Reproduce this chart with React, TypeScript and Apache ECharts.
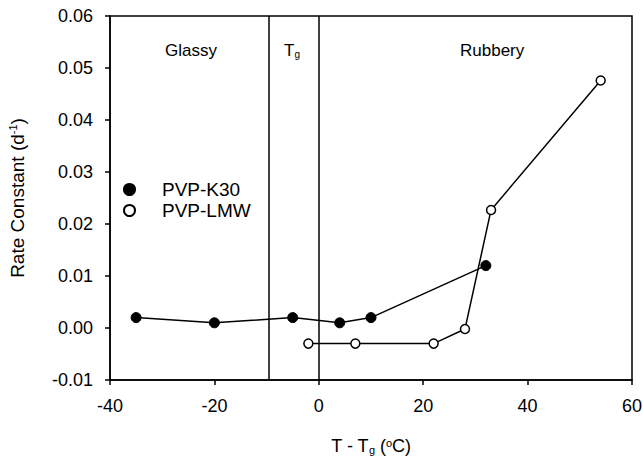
import React, { useEffect, useRef } from "react";
import * as echarts from "echarts";

const k30X = [-35, -20, -5, 4, 10, 32];
const k30Y = [0.002, 0.001, 0.002, 0.001, 0.002, 0.012];
const lmwX = [-2, 7, 22, 28, 33, 54];
const lmwY = [-0.003, -0.003, -0.003, -0.0002, 0.0227, 0.0476];
const regionLines = [-9.5, 0];
const xTicks = { min: -40, max: 60, interval: 20 };
const yTicks = { min: -0.01, max: 0.06, interval: 0.01 };

const FONT = "Liberation Sans, Arial, sans-serif";

export default function App() {
  const ref = useRef<HTMLDivElement>(null);
  useEffect(() => {
    if (!ref.current) return;
    const chart = echarts.init(ref.current, null, { renderer: "svg" });
    const black = "#000";
    chart.setOption({
      animation: false,
      backgroundColor: "#fff",
      textStyle: { fontFamily: FONT, color: black },
      grid: {
        left: 110,
        right: 11,
        top: 16,
        bottom: 77,
        containLabel: false,
        outerBoundsMode: "none",
        show: true,
        borderColor: black,
        borderWidth: 1.5,
        backgroundColor: "transparent",
      },
      xAxis: {
        type: "value",
        min: xTicks.min,
        max: xTicks.max,
        interval: xTicks.interval,
        splitLine: { show: false },
        axisLine: { show: true, onZero: false, lineStyle: { color: black, width: 1.5 } },
        axisTick: { show: true, inside: false, length: 5, lineStyle: { color: black, width: 1.5 } },
        axisLabel: { color: black, fontSize: 18, fontFamily: FONT, margin: 17 },
        name: "T - T{sub|g} ({sup|o}C)",
        nameLocation: "middle",
        nameGap: 57,
        nameTextStyle: {
          color: black,
          fontSize: 18,
          fontFamily: FONT,
          lineHeight: 18,
          rich: {
            sub: { fontSize: 11, fontFamily: FONT, color: black, lineHeight: 18, padding: [7, 0, 0, 0] },
            sup: { fontSize: 11, fontFamily: FONT, color: black, lineHeight: 18, padding: [0, 0, 6, 0] },
          },
        },
      },
      yAxis: {
        type: "value",
        min: yTicks.min,
        max: yTicks.max,
        interval: yTicks.interval,
        splitLine: { show: false },
        axisLine: { show: true, onZero: false, lineStyle: { color: black, width: 1.5 } },
        axisTick: { show: true, inside: false, length: 5, lineStyle: { color: black, width: 1.5 } },
        axisLabel: {
          color: black,
          fontSize: 18,
          fontFamily: FONT,
          margin: 17,
          formatter: (v: number) => v.toFixed(2),
        },
        name: "Rate Constant (d{sup|-1})",
        nameLocation: "middle",
        nameGap: 83,
        nameTextStyle: {
          color: black,
          fontSize: 19,
          fontFamily: FONT,
          rich: {
            sup: { fontSize: 11, fontFamily: FONT, color: black, padding: [0, 0, 9, 0] },
          },
        },
      },
      legend: {
        orient: "vertical",
        left: 123,
        top: 180,
        padding: 0,
        itemWidth: 11,
        itemHeight: 11,
        itemGap: 2,
        textStyle: { fontSize: 19, fontFamily: FONT, color: black, padding: [0, 0, 0, 22] },
        data: [
          { name: "PVP-K30", icon: "circle" },
          { name: "PVP-LMW", icon: "circle" },
        ],
      },
      graphic: [
        { type: "text", left: 165, top: 42, style: { text: "Glassy", fontSize: 17, fontFamily: FONT, fill: black } },
        {
          type: "text",
          left: 284,
          top: 42,
          style: {
            text: "T{sub|g}",
            fontSize: 17,
            fontFamily: FONT,
            fill: black,
            rich: { sub: { fontSize: 10, fontFamily: FONT, fill: black, padding: [7, 0, 0, 0] } },
          },
        },
        { type: "text", left: 460, top: 42, style: { text: "Rubbery", fontSize: 17, fontFamily: FONT, fill: black } },
      ],
      series: [
        {
          name: "PVP-K30",
          type: "line",
          data: k30X.map((x, i) => [x, k30Y[i]]),
          symbol: "circle",
          symbolSize: 10,
          showSymbol: true,
          lineStyle: { color: black, width: 1.5 },
          itemStyle: { color: black, borderColor: black, borderWidth: 1 },
          z: 3,
          markLine: {
            silent: true,
            symbol: ["none", "none"],
            label: { show: false },
            lineStyle: { color: black, width: 1.5, type: "solid" },
            data: regionLines.map((x) => ({ xAxis: x })),
          },
        },
        {
          name: "PVP-LMW",
          type: "line",
          data: lmwX.map((x, i) => [x, lmwY[i]]),
          symbol: "circle",
          symbolSize: 9,
          showSymbol: true,
          lineStyle: { color: black, width: 1.5 },
          itemStyle: { color: "#fff", borderColor: black, borderWidth: 1.5 },
          z: 4,
        },
      ],
    });
    return () => chart.dispose();
  }, []);
  return <div ref={ref} style={{ width: 643, height: 457, position: "absolute", left: 0, top: 0 }} />;
}
